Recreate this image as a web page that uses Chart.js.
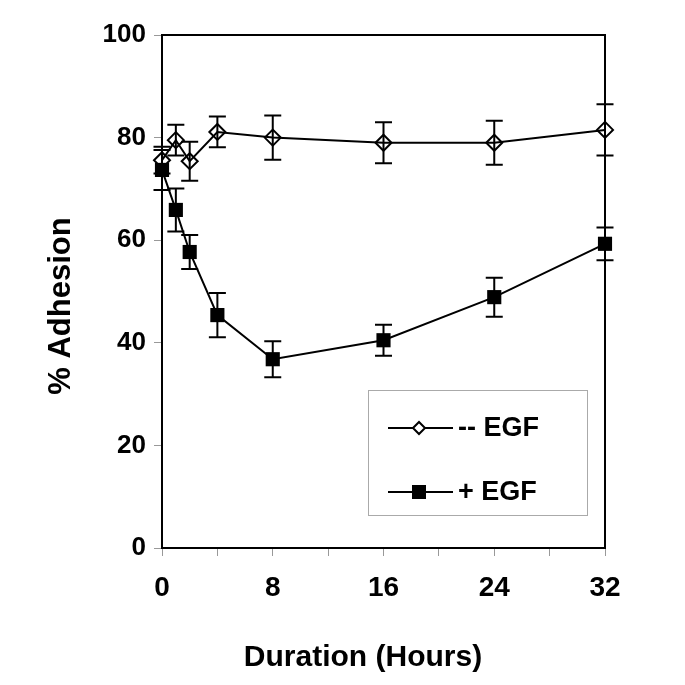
<!DOCTYPE html>
<html>
<head>
<meta charset="utf-8">
<script src="https://cdn.jsdelivr.net/npm/chart.js@4/dist/chart.umd.min.js"></script>
<style>
  html, body { margin: 0; padding: 0; background: #ffffff; }
  #wrap { width: 685px; height: 685px; }
</style>
</head>
<body>
<div id="wrap"><canvas id="c" width="685" height="685"></canvas></div>
<script>
// ---- data ----
const hours      = [0, 1, 2, 4, 8, 16, 24, 32];
const minusEGF    = [75.6, 79.5, 75.4, 81.1, 80.0, 79.0, 79.0, 81.5];
const minusEGFErr = [2.6, 3.0, 3.8, 3.0, 4.3, 4.0, 4.3, 5.0];
const plusEGF     = [73.7, 65.9, 57.7, 45.4, 36.8, 40.5, 48.9, 59.3];
const plusEGFErr  = [3.9, 4.2, 3.3, 4.3, 3.5, 3.0, 3.8, 3.2];
const yTicks = [0, 20, 40, 60, 80, 100];
const xTicks = [0, 4, 8, 12, 16, 20, 24, 28, 32];
const xLabelTicks = [0, 8, 16, 24, 32];
const seriesNames = ['-- EGF', '+ EGF'];
const xTitle = 'Duration (Hours)';
const yTitle = '% Adhesion';

const FONT = '"Liberation Sans", Arial, Helvetica, sans-serif';

const toPts = (xs, ys) => xs.map((x, i) => ({ x: x, y: ys[i] }));

const errorBars = {
  id: 'errorBars',
  afterDatasetsDraw(chart) {
    const ctx = chart.ctx;
    const y = chart.scales.y;
    ctx.save();
    ctx.strokeStyle = '#000';
    ctx.lineWidth = 2;
    chart.data.datasets.forEach((ds, di) => {
      const meta = chart.getDatasetMeta(di);
      meta.data.forEach((pt, i) => {
        const v = ds.data[i].y, e = ds.errors[i];
        const yt = y.getPixelForValue(v + e), yb = y.getPixelForValue(v - e);
        const cap = 8.5;
        ctx.beginPath();
        ctx.moveTo(pt.x, yt); ctx.lineTo(pt.x, yb);
        ctx.moveTo(pt.x - cap, yt); ctx.lineTo(pt.x + cap, yt);
        ctx.moveTo(pt.x - cap, yb); ctx.lineTo(pt.x + cap, yb);
        ctx.stroke();
      });
    });
    ctx.restore();
  }
};

const frameLegendTitles = {
  id: 'frameLegendTitles',
  beforeDatasetsDraw(chart) {
    const ctx = chart.ctx;
    const a = chart.chartArea;
    ctx.save();
    ctx.strokeStyle = '#000';
    ctx.lineWidth = 2;
    ctx.strokeRect(a.left, a.top, a.right - a.left, a.bottom - a.top);
    ctx.restore();
  },
  afterDraw(chart) {
    const ctx = chart.ctx;
    ctx.save();
    // axis titles
    ctx.fillStyle = '#000';
    ctx.textAlign = 'center';
    ctx.textBaseline = 'middle';
    ctx.font = 'bold 30px ' + FONT;
    ctx.fillText(xTitle, 363, 658);
    ctx.save();
    ctx.translate(61, 306);
    ctx.rotate(-Math.PI / 2);
    ctx.font = 'bold 31px ' + FONT;
    ctx.fillText(yTitle, 0, 0);
    ctx.restore();

    // legend box
    const bx = 368.5, by = 390.5, bw = 219, bh = 125;
    ctx.fillStyle = '#fff';
    ctx.fillRect(bx, by, bw, bh);
    ctx.strokeStyle = '#aaaaaa';
    ctx.lineWidth = 1;
    ctx.strokeRect(bx, by, bw, bh);

    const rows = [428, 492];
    ctx.font = 'bold 27px ' + FONT;
    ctx.textBaseline = 'middle';
    ctx.textAlign = 'left';
    rows.forEach((ry, i) => {
      ctx.strokeStyle = '#000';
      ctx.lineWidth = 2;
      ctx.beginPath();
      ctx.moveTo(388, ry); ctx.lineTo(453, ry);
      ctx.stroke();
      const mx = 419;
      if (i === 0) {
        const r = 6;
        ctx.beginPath();
        ctx.moveTo(mx - r, ry); ctx.lineTo(mx, ry - r);
        ctx.lineTo(mx + r, ry); ctx.lineTo(mx, ry + r);
        ctx.closePath();
        ctx.fillStyle = '#fff';
        ctx.fill();
        ctx.stroke();
      } else {
        ctx.fillStyle = '#000';
        ctx.fillRect(mx - 7, ry - 7, 14, 14);
      }
      ctx.fillStyle = '#000';
      ctx.fillText(seriesNames[i], 458, ry + 1);
    });
    ctx.restore();
  }
};

new Chart(document.getElementById('c'), {
  type: 'line',
  data: {
    datasets: [
      {
        label: seriesNames[0],
        data: toPts(hours, minusEGF),
        errors: minusEGFErr,
        clip: false,
        borderColor: '#000',
        borderWidth: 2,
        pointStyle: 'rectRot',
        pointRadius: 8,
        pointBorderWidth: 2,
        pointBorderColor: '#000',
        pointBackgroundColor: 'rgba(255,255,255,0)',
        tension: 0,
        fill: false
      },
      {
        label: seriesNames[1],
        data: toPts(hours, plusEGF),
        errors: plusEGFErr,
        clip: false,
        borderColor: '#000',
        borderWidth: 2,
        pointStyle: 'rect',
        pointRadius: 10,
        pointBorderWidth: 0,
        pointBackgroundColor: '#000',
        tension: 0,
        fill: false
      }
    ]
  },
  options: {
    responsive: false,
    animation: false,
    events: [],
    layout: { padding: { top: 35, right: 80, left: 0, bottom: 0 } },
    plugins: { legend: { display: false }, tooltip: { enabled: false } },
    scales: {
      x: {
        type: 'linear',
        min: 0, max: 32,
        afterFit(s) { s.height = 137; },
        afterBuildTicks(s) { s.ticks = xTicks.map(v => ({ value: v })); },
        ticks: {
          autoSkip: false,
          maxRotation: 0,
          padding: 15,
          color: '#000',
          font: { family: FONT, size: 28, weight: 'bold' },
          callback: v => (xLabelTicks.includes(v) ? String(v) : '')
        },
        grid: { drawOnChartArea: false, drawTicks: true, tickLength: 8, color: '#999999', lineWidth: 1 },
        border: { display: true, color: '#000', width: 2 },
        title: { display: false }
      },
      y: {
        min: 0, max: 100,
        afterFit(s) { s.width = 162; },
        afterBuildTicks(s) { s.ticks = yTicks.map(v => ({ value: v })); },
        ticks: {
          padding: 8,
          color: '#000',
          font: { family: FONT, size: 26, weight: 'bold' }
        },
        grid: { drawOnChartArea: false, drawTicks: true, tickLength: 8, color: '#999999', lineWidth: 1 },
        border: { display: true, color: '#000', width: 2 },
        title: { display: false }
      }
    }
  },
  plugins: [errorBars, frameLegendTitles]
});
</script>
</body>
</html>
